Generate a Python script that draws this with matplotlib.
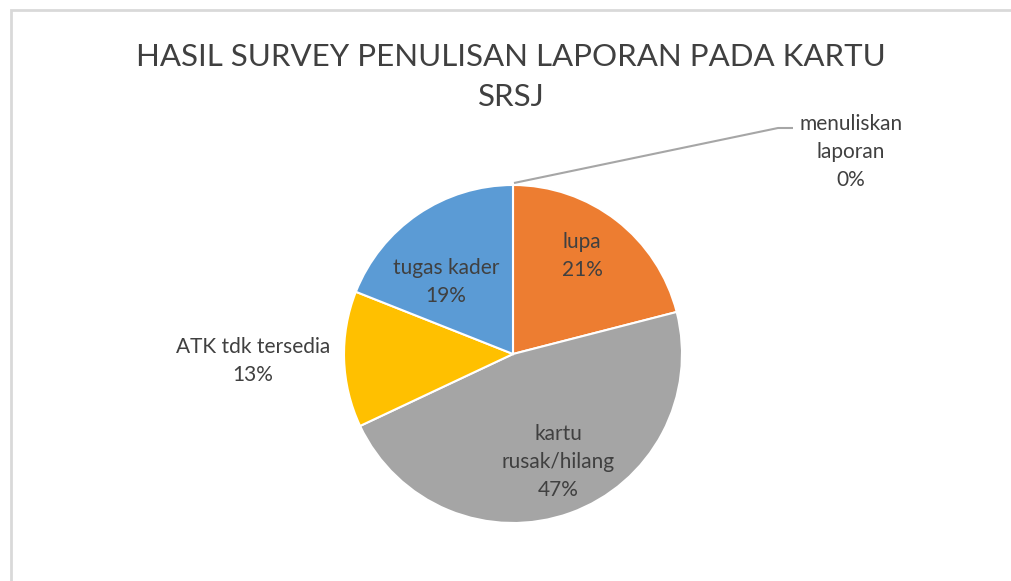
import matplotlib.pyplot as plt

# ----------------------------
# Data
# ----------------------------
categories = ['menuliskan laporan', 'lupa', 'kartu rusak/hilang', 'ATK tdk tersedia', 'tugas kader']
values = [0, 21, 47, 13, 19]
label_text = ['menuliskan\nlaporan\n0%', 'lupa\n21%', 'kartu\nrusak/hilang\n47%',
              'ATK tdk tersedia\n13%', 'tugas kader\n19%']
colors = ['#4472C4', '#ED7D31', '#A5A5A5', '#FFC000', '#5B9BD5']

W, H = 1012, 581
plt.rcParams['font.family'] = ['Lato', 'DejaVu Sans']

fig = plt.figure(figsize=(W / 100, H / 100), dpi=100)
ax = fig.add_axes([0, 0, 1, 1])

cx, cy, r = 513, H - 354, 169
wedges, _ = ax.pie(values, colors=colors, startangle=90, counterclock=False,
                   center=(cx, cy), radius=r,
                   wedgeprops=dict(edgecolor='white', linewidth=1.5))

# label positions (pixel coords, top-left origin)
label_pos = [(851, 152), (582, 256), (558, 462), (253, 361), (446, 282)]
for txt, (x, y) in zip(label_text, label_pos):
    ax.text(x, H - y, txt, ha='center', va='center', fontsize=15,
            color='#404040', linespacing=1.5)

# leader line for the 0% slice
ax.plot([514, 778, 793], [H - 183, H - 128, H - 128], color='#A6A6A6', lw=1.5,
        solid_capstyle='butt')

ax.text(511, H - 77, 'HASIL SURVEY PENULISAN LAPORAN PADA KARTU\nSRSJ',
        ha='center', va='center', fontsize=22.5, color='#404040', linespacing=1.55)

# chart frame (only left and top edges are inside the picture)
ax.plot([11.5, 11.5, W], [0, H - 10, H - 10], color='#D9D9D9', lw=2,
        solid_joinstyle='miter', solid_capstyle='butt')

ax.set_xlim(0, W)
ax.set_ylim(0, H)
ax.set_aspect('auto')
ax.axis('off')

fig.savefig('out.png', dpi=100)
